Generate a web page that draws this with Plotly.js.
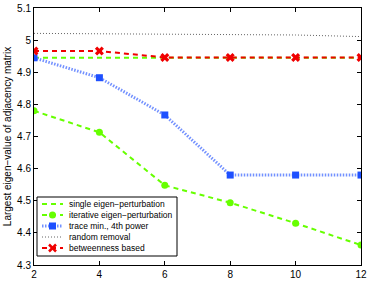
<!DOCTYPE html>
<html><head><meta charset="utf-8">
<script src="https://cdn.plot.ly/plotly-3.0.1.min.js"></script>
<style>body{margin:0;background:#fff}#c{width:374px;height:299px}</style>
</head><body><div id="c"></div>
<script>
const xs = [2, 4, 6, 8, 10, 12];
const single = [4.945, 4.945, 4.945, 4.945, 4.945, 4.945];
const iterative = [4.78, 4.713, 4.548, 4.494, 4.43, 4.362];
const traceMin = [4.945, 4.883, 4.767, 4.58, 4.58, 4.58];
const randomRem = [5.021, 5.02, 5.019, 5.018, 5.016, 5.011];
const betweenness = [4.966, 4.966, 4.946, 4.946, 4.946, 4.946];
const names = ['single eigen\u2212perturbation', 'iterative eigen\u2212perturbation', 'trace min., 4th power', 'random removal', 'betweenness based'];
const yTicks = [4.3, 4.4, 4.5, 4.6, 4.7, 4.8, 4.9, 5, 5.1];
const xTicks = [2, 4, 6, 8, 10, 12];

const green = 'rgb(102,255,0)';
const blueLine = 'rgb(115,145,255)';
const blue = 'rgb(30,80,255)';
const red = 'rgb(240,0,0)';
const grey = 'rgb(100,100,100)';
const styles = [
  {line: {color: green, width: 2, dash: '5px,4px'}, marker: null},
  {line: {color: green, width: 2, dash: '5px,4px'}, marker: {symbol: 'circle', size: 7, color: green}},
  {line: {color: blueLine, width: 3, dash: '1.5px,1.5px'}, marker: {symbol: 'square', size: 7, color: blue}},
  {line: {color: grey, width: 1, dash: '1px,2px'}, marker: null},
  {line: {color: red, width: 2, dash: '5px,4px'}, marker: {symbol: 'x', size: 8, color: red}}
];
const series = [single, iterative, traceMin, randomRem, betweenness];
const traces = series.map((ys, i) => {
  const t = {x: xs, y: ys, name: names[i], mode: styles[i].marker ? 'lines+markers' : 'lines', line: styles[i].line, showlegend: false};
  if (styles[i].marker) t.marker = styles[i].marker;
  return t;
});

// Custom compact legend (MATLAB style), built in paper coordinates
const L = 34, R = 361, T = 8, B = 265;
const px = v => (v - L) / (R - L);
const py = v => (B - v) / (B - T);
const shapes = [];
const annotations = [];
shapes.push({type: 'rect', xref: 'paper', yref: 'paper', x0: px(37), x1: px(177), y0: py(197), y1: py(256),
  line: {color: '#000', width: 1}, fillcolor: '#fff', layer: 'above'});
const rowY = [204, 215, 226, 237, 248];
names.forEach((n, i) => {
  const y = py(rowY[i]);
  const st = styles[i];
  shapes.push({type: 'line', xref: 'paper', yref: 'paper', x0: px(42), x1: px(63), y0: y, y1: y,
    line: {color: st.line.color, width: st.line.width, dash: st.line.dash}, layer: 'above'});
  if (st.marker) {
    const cx = 52.5, cy = rowY[i], r = 3.5;
    if (st.marker.symbol === 'circle') {
      shapes.push({type: 'circle', xref: 'paper', yref: 'paper', x0: px(cx - r), x1: px(cx + r), y0: py(cy + r), y1: py(cy - r),
        line: {color: st.marker.color, width: 0}, fillcolor: st.marker.color, layer: 'above'});
    } else if (st.marker.symbol === 'square') {
      shapes.push({type: 'rect', xref: 'paper', yref: 'paper', x0: px(cx - r), x1: px(cx + r), y0: py(cy + r), y1: py(cy - r),
        line: {color: st.marker.color, width: 0}, fillcolor: st.marker.color, layer: 'above'});
    } else {
      shapes.push({type: 'line', xref: 'paper', yref: 'paper', x0: px(cx - r), x1: px(cx + r), y0: py(cy - r), y1: py(cy + r),
        line: {color: st.marker.color, width: 2.5}, layer: 'above'});
      shapes.push({type: 'line', xref: 'paper', yref: 'paper', x0: px(cx - r), x1: px(cx + r), y0: py(cy + r), y1: py(cy - r),
        line: {color: st.marker.color, width: 2.5}, layer: 'above'});
    }
  }
  annotations.push({xref: 'paper', yref: 'paper', x: px(67), y: y, xanchor: 'left', yanchor: 'middle', showarrow: false,
    text: n, font: {family: 'Liberation Sans, Arial', size: 8.5, color: '#000'}});
});

const axisBase = {showgrid: false, zeroline: false, showline: true, mirror: 'ticks', linecolor: '#000', linewidth: 1, ticks: 'inside', ticklen: 4, tickcolor: '#000', tickfont: {family: 'Liberation Sans, Arial', size: 10, color: '#000'}};
const layout = {
  width: 374, height: 299,
  margin: {l: L, r: 374 - R, t: T, b: 299 - B},
  paper_bgcolor: '#fff', plot_bgcolor: '#fff',
  showlegend: false,
  xaxis: Object.assign({}, axisBase, {range: [2, 12], tickvals: xTicks, ticktext: xTicks.map(String)}),
  yaxis: Object.assign({}, axisBase, {range: [4.3, 5.1], tickvals: yTicks, ticktext: yTicks.map(v => String(v)),
    title: {text: 'Largest eigen\u2212value of adjacency matrix', font: {family: 'Liberation Sans, Arial', size: 10, color: '#000'}, standoff: 3}}),
  shapes: shapes,
  annotations: annotations
};
Plotly.newPlot('c', traces, layout, {displayModeBar: false, staticPlot: true});
</script></body></html>
